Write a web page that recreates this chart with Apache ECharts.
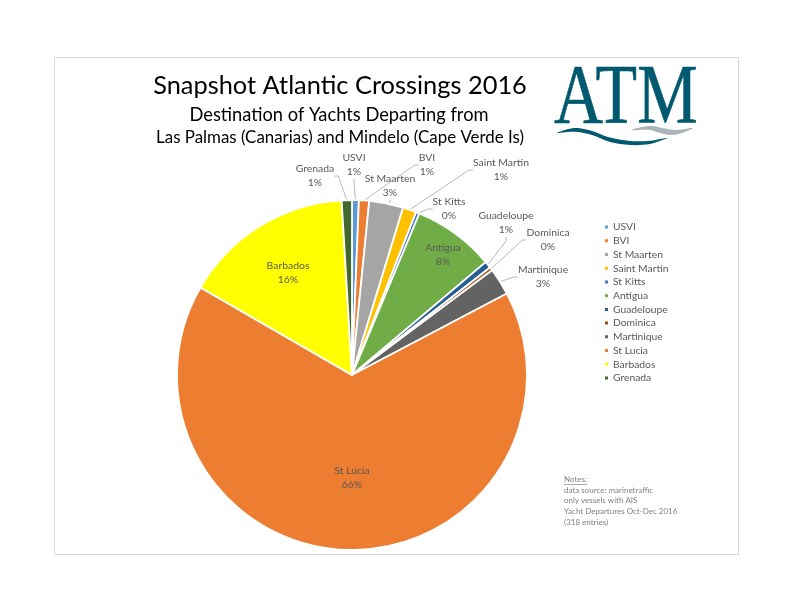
<!DOCTYPE html>
<html><head><meta charset="utf-8">
<style>html,body{margin:0;padding:0;background:#fff}#c{width:792px;height:612px}</style>
<script src="https://cdn.jsdelivr.net/npm/echarts@6/dist/echarts.min.js"></script>
</head><body><div id="c"></div>
<script>
const categories = ['USVI','BVI','St Maarten','Saint Martin','St Kitts','Antigua','Guadeloupe','Dominica','Martinique','St Lucia','Barbados','Grenada'];
const vesselCounts = [2,3,10,4,1,24,2,1,8,210,50,3];
const sliceColors = ['#5B9BD5','#ED7D31','#A5A5A5','#FFC000','#4472C4','#70AD47','#255E91','#9E480E','#636363','#ED7D31','#FFFF00','#43682B'];
const insideLabels = ['Antigua','St Lucia','Barbados'];
const labelCentres = {
  'USVI':[354,165],'BVI':[427,165],'St Maarten':[390,186],'Saint Martin':[501,170],'St Kitts':[449,209],
  'Antigua':[443,255],'Guadeloupe':[506,223],'Dominica':[548,240],'Martinique':[543,277],
  'St Lucia':[352,478],'Barbados':[288,273],'Grenada':[315,176]
};
const noteLines = ['data source: marinetraffic','only vessels with AIS','Yacht Departures Oct-Dec 2016','(318 entries)'];
const total = vesselCounts.reduce((a,b)=>a+b,0);
const font = 'Lato, Carlito, "Open Sans", sans-serif';
const grey = '#595959';
const chart = echarts.init(document.getElementById('c'),null,{renderer:'canvas'});
chart.setOption({
  animation:false,
  backgroundColor:'#fff',
  title:[
    {text:'Snapshot Atlantic Crossings 2016',left:339,top:68,textAlign:'center',textStyle:{fontFamily:font,fontSize:25.4,fontWeight:'normal',color:'#000'}},
    {text:'Destination of Yachts Departing from',left:339,top:101,textAlign:'center',textStyle:{fontFamily:font,fontSize:18.3,fontWeight:'normal',color:'#000'}},
    {text:'Las Palmas (Canarias) and Mindelo (Cape Verde Is)',left:339,top:124,textAlign:'center',textStyle:{fontFamily:font,fontSize:16.9,fontWeight:'normal',color:'#000'}}
  ].map((t,i)=>Object.assign(t,{left:[335,334,335][i]})),
  legend:{
    orient:'vertical',left:598,top:217,itemWidth:5,itemHeight:5,itemGap:3.73,icon:'rect',
    data:categories,
    textStyle:{fontFamily:font,fontSize:10.3,color:grey,padding:[0,0,0,-1],height:10,lineHeight:10}
  },
  series:[{
    type:'pie',center:[352,375],radius:[0,175],startAngle:90,clockwise:true,
    avoidLabelOverlap:false,
    itemStyle:{borderColor:'#fff',borderWidth:1.8},
    label:{show:true,fontFamily:font,fontSize:10.4,color:grey,lineHeight:14,align:'center',
      formatter:p=>p.name+'\n'+Math.round(p.value/total*100)+'%'},
    labelLine:{show:true,length:10,length2:4,lineStyle:{color:'#a6a6a6',width:0.8}},
    labelLayout:function(p){
      const c = labelCentres[categories[p.dataIndex]];
      return {x:c[0],y:c[1],align:'center',verticalAlign:'middle'};
    },
    data:categories.map((n,i)=>({
      name:n,value:vesselCounts[i],itemStyle:{color:sliceColors[i]},
      label:insideLabels.includes(n)?{position:'inside'}:{position:'outside'},
      labelLine:{show:!insideLabels.includes(n)}
    }))
  }],
  graphic:[
    {type:'rect',silent:true,z:-1,shape:{x:54.5,y:57.5,width:684,height:497},style:{fill:'#fff',stroke:'#d9d9d9',lineWidth:1}},
    {type:'text',silent:true,x:554,y:59,scaleX:0.81,scaleY:1,style:{text:'ATM',fontFamily:'"Liberation Serif",serif',fontSize:84,fill:'#00596F',stroke:'#00596F',lineWidth:0.6}},
    {type:'polygon',silent:true,shape:{points:[[557,133],[568,129],[578,128],[592,131],[608,137],[630,141],[648,141],[667,138],[650,144],[630,145],[610,142],[592,135],[578,132],[568,132]],smooth:0.3},style:{fill:'#00596F'}},
    {type:'polygon',silent:true,shape:{points:[[631,130],[642,127],[653,126],[662,128],[676,130],[693,128],[682,133],[670,135],[660,133],[650,130],[640,130]],smooth:0.3},style:{fill:'#A9B3B8'}},
    {type:'text',silent:true,x:564,y:475,style:{text:'Notes:',fontFamily:font,fontSize:8,fill:'#7f7f7f'}},
    {type:'line',silent:true,shape:{x1:564,y1:484.5,x2:587,y2:484.5},style:{stroke:'#7f7f7f',lineWidth:0.7}},
    ...noteLines.map((t,i)=>({type:'text',silent:true,x:564,y:486+i*10.7,style:{text:t,fontFamily:font,fontSize:8,fill:'#7f7f7f'}}))
  ]
});
</script></body></html>
